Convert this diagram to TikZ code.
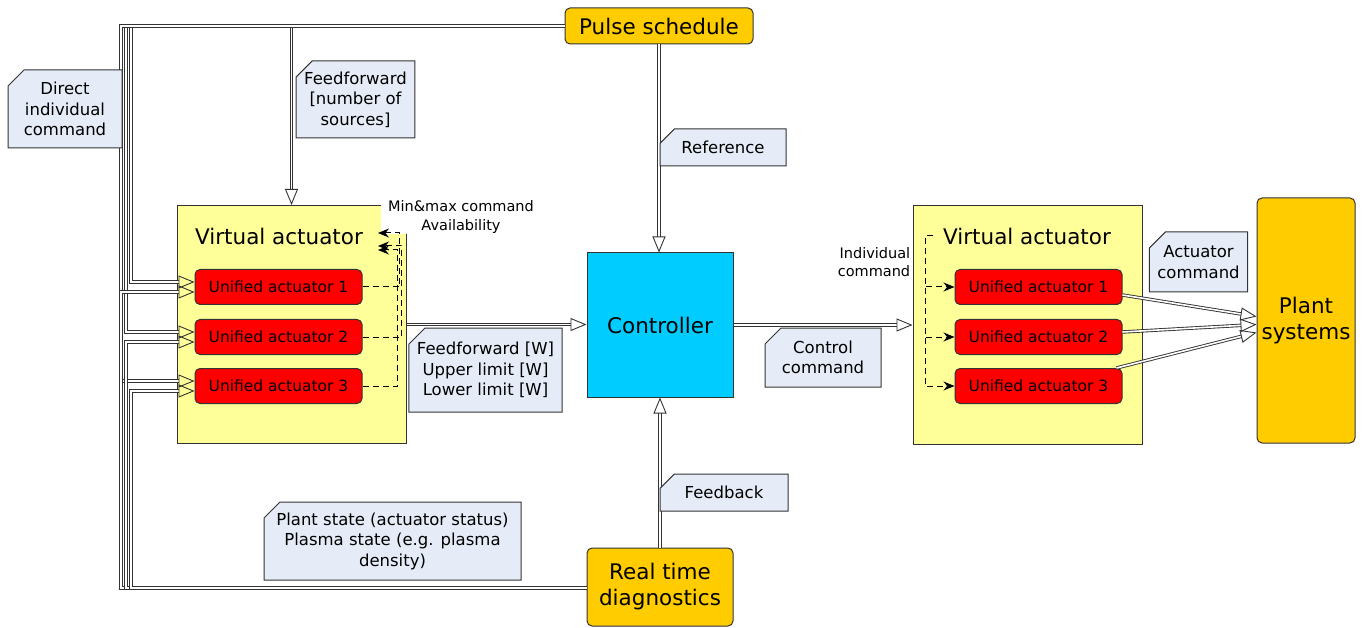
\documentclass[tikz,border=0pt]{standalone}
\usepackage{fontspec}
\setmainfont{DejaVu Sans}
\usetikzlibrary{arrows.meta,shapes.misc,calc}
\definecolor{gold}{HTML}{FFCC00}
\definecolor{sky}{HTML}{00CCFF}
\definecolor{pale}{HTML}{FFFF99}
\definecolor{notebg}{HTML}{E6ECF7}
\definecolor{edge}{HTML}{333333}
\begin{document}
\begin{tikzpicture}[x=1pt,y=-1pt,
  bigfont/.style={font=\fontsize{21.5}{26}\selectfont},
  src/.style={draw=edge, fill=gold, rounded corners=5pt, line width=1pt, bigfont, align=center, inner sep=0pt},
  ctrlbox/.style={draw=edge, fill=sky, line width=1pt, bigfont, inner sep=0pt, minimum width=146pt, minimum height=144pt},
  vabox/.style={draw=edge, fill=pale, line width=1pt, minimum width=229pt, minimum height=238pt, inner sep=0pt},
  ua/.style={draw=edge, fill=red, rounded corners=5pt, line width=1pt, minimum width=167pt, minimum height=35pt, inner sep=0pt, font=\fontsize{15.5}{18}\selectfont},
  note/.style={chamfered rectangle, chamfered rectangle corners=north west, chamfered rectangle xsep=8pt, chamfered rectangle ysep=8pt, draw=edge, fill=notebg, line width=1pt, align=center, inner sep=0pt, font=\fontsize{16.5}{20.5}\selectfont},
  small/.style={font=\fontsize{14.5}{18.5}\selectfont},
  dbl/.style={draw=edge, line width=0.9pt, double=white, double distance=1.6pt, -{Triangle[open, length=16pt, width=13pt]}},
  dsh/.style={draw=black, line width=1pt, dash pattern=on 6pt off 4pt, -{Stealth[length=11pt, width=9pt]}}
]
\useasboundingbox (0,0) rectangle (1368,628);

% main blocks
\node[src, minimum width=188pt, minimum height=36pt] (ps) at (659,26) {Pulse schedule};
\node[ctrlbox] (ctrl) at (660,325) {Controller};
\node[src, minimum width=146pt, minimum height=78pt] (rtd) at (660,587) {Real time\\diagnostics};
\node[src, minimum width=98pt, minimum height=245pt] (plant) at (1306,320.5) {Plant\\systems};

% virtual actuators
\node[vabox] (val) at (291.5,324.5) {};
\node[vabox] (var) at (1027.5,325) {};
\node[bigfont, inner sep=0pt] (vall) at (279,236) {Virtual actuator};
\node[bigfont, inner sep=0pt] (varl) at (1027,236) {Virtual actuator};

\node[ua] (ual1) at (278.5,287) {Unified actuator 1};
\node[ua] (ual2) at (278.5,337) {Unified actuator 2};
\node[ua] (ual3) at (278.5,386) {Unified actuator 3};
\node[ua] (uar1) at (1038.5,287) {Unified actuator 1};
\node[ua] (uar2) at (1038.5,337) {Unified actuator 2};
\node[ua] (uar3) at (1038.5,386) {Unified actuator 3};

% labels on white ground
\node[small, fill=white, align=center, inner sep=0pt, minimum width=160pt, minimum height=35pt] (mm) at (461,217) {Min\&max command\\Availability};
\node[small, fill=white, align=right, inner sep=2pt] (ic) at (874,262) {Individual\\command};

% controller links
\draw[dbl] (ps.south) -- (ctrl.north -| ps.south);
\draw[dbl] (rtd.north) -- (ctrl.south);
\draw[dbl] (val.east) -- (ctrl.west |- val.east);
\draw[dbl] (ctrl.east) -- (var.west |- ctrl.east);

% feedforward into the left virtual actuator
\draw[dbl] (ps.west) -| (val.north);

% pulse schedule buses to each unified actuator
\draw[dbl] (ps.west) -| (131,282) -- ($(ual1.west)+(0,-5)$);
\draw[dbl] (ps.west) -| (126,332) -- ($(ual2.west)+(0,-5)$);
\draw[dbl] (ps.west) -| (121,381) -- ($(ual3.west)+(0,-5)$);

% diagnostics buses to each unified actuator
\draw[dbl] (rtd.west |- 0,588) -| (121,292) -- ($(ual1.west)+(0,5)$);
\draw[dbl] (rtd.west |- 0,588) -| (126,342) -- ($(ual2.west)+(0,5)$);
\draw[dbl] (rtd.west |- 0,588) -| (131,391) -- ($(ual3.west)+(0,5)$);

% limits reported back to the virtual actuator
\coordinate (mm1) at (378,233);
\coordinate (mm2) at (378,246);
\coordinate (mm3) at (378,250);
\draw[dsh] (ual1.east) -- ++(37,0) |- (mm1);
\draw[dsh] (ual2.east) -- ++(39,0) |- (mm2);
\draw[dsh] (ual3.east) -- ++(35,0) |- (mm3);

% individual commands
\coordinate (icx) at (933,236);
\draw[dsh] (icx) -- ++(-8,0) |- (uar1.west);
\draw[dsh] (icx) -- ++(-8,0) |- (uar2.west);
\draw[dsh] (icx) -- ++(-8,0) |- (uar3.west);

% actuator commands to plant
\draw[dbl] ($(uar1.east)+(0,8)$) -- ($(plant.west)+(0,-4)$);
\draw[dbl] ($(uar2.east)+(0,-5)$) -- ($(plant.west)+(0,4)$);
\draw[dbl] ($(uar3.north east)+(-6,0)$) -- ($(plant.west)+(0,12)$);

% notes
\node[note, minimum width=114pt, minimum height=78pt] (ndic) at (65,109) {Direct\\individual\\command};
\node[note, minimum width=115pt, minimum height=77pt] (nffn) at (355.5,99.5) {Feedforward\\{[number of}\\sources]};
\node[note, minimum width=126pt, minimum height=37pt] (nref) at (723,147.5) {Reference};
\node[note, minimum width=147pt, minimum height=84pt] (nffw) at (485.5,370) {Feedforward [W]\\Upper limit [W]\\Lower limit [W]};
\node[note, minimum width=116pt, minimum height=59pt] (ncc) at (823,357.5) {Control\\command};
\node[note, minimum width=87pt, minimum height=60pt] (nac) at (1198.5,262) {Actuator\\command};
\node[note, minimum width=128pt, minimum height=37pt] (nfb) at (724,492.5) {Feedback};
\node[note, minimum width=257pt, minimum height=78pt] (nps) at (392.5,541) {Plant state (actuator status)\\Plasma state (e.g. plasma\\density)};
\end{tikzpicture}
\end{document}
